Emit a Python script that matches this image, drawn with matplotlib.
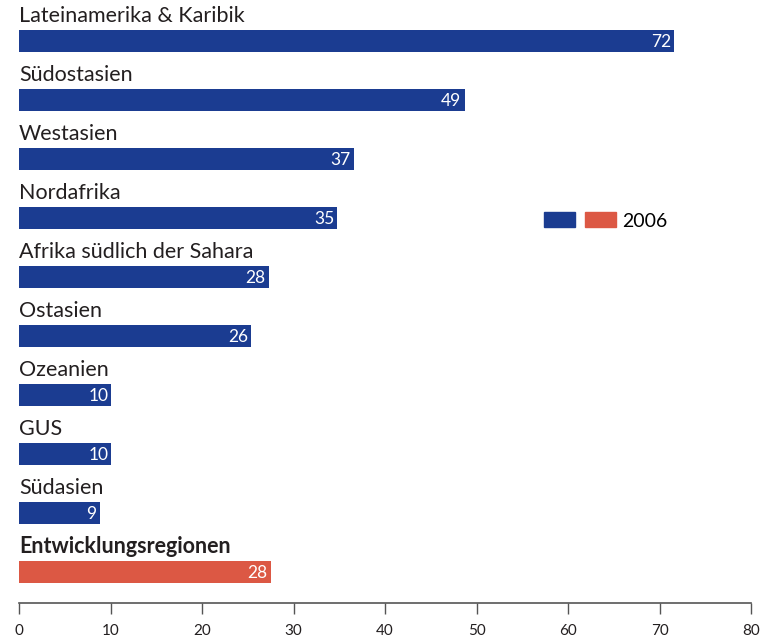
import matplotlib.pyplot as plt
from matplotlib.patches import Patch
from matplotlib.legend_handler import HandlerTuple

regions = ['Lateinamerika & Karibik', 'Südostasien', 'Westasien', 'Nordafrika',
           'Afrika südlich der Sahara', 'Ostasien', 'Ozeanien', 'GUS', 'Südasien',
           'Entwicklungsregionen']
values = [72, 49, 37, 35, 28, 26, 10, 10, 9, 28]
bar_widths = [71.6, 48.7, 36.6, 34.8, 27.3, 25.4, 10.1, 10.1, 8.8, 27.5]
xticks = [0, 10, 20, 30, 40, 50, 60, 70, 80]

blue = '#1b3c91'
red = '#dc5844'
colors = [blue] * 9 + [red]

plt.rcParams['font.family'] = ['Lato', 'DejaVu Sans']

fig = plt.figure(figsize=(7.64, 6.39), dpi=100)
ax = fig.add_axes([19 / 764, 36 / 639, 732 / 764, 603 / 639])

ypos = list(range(len(regions)))
ax.barh(ypos, bar_widths, height=0.36, color=colors)

for y, name, v, w in zip(ypos, regions, values, bar_widths):
    weight = 'bold' if y == len(regions) - 1 else 'normal'
    ax.text(0, y - 0.43, name, ha='left', va='center', fontsize=15.5,
            color='#231f20', fontweight=weight)
    ax.text(w - 0.35, y + 0.02, str(v), ha='right', va='center', fontsize=12.5,
            color='white')

ax.set_xlim(0, 80)
ax.set_ylim(9.525, -0.695)
ax.set_xticks(xticks)
ax.set_yticks([])
for s in ['top', 'right', 'left']:
    ax.spines[s].set_visible(False)
ax.spines['bottom'].set_color('#555555')
ax.spines['bottom'].set_linewidth(1.2)
ax.tick_params(axis='x', direction='out', length=8, width=1, color='#555555',
               labelsize=11, labelcolor='#231f20', pad=7)

handle = (Patch(color=blue), Patch(color=red))
ax.legend([handle], ['2006'], handler_map={tuple: HandlerTuple(ndivide=None, pad=0.55)},
          loc='center left', bbox_to_anchor=(525 / 732, 1 - 221 / 603),
          frameon=False, fontsize=14, handlelength=3.7, handleheight=0.8,
          handletextpad=0.3, borderpad=0, borderaxespad=0)

fig.savefig('out.png', dpi=100)
